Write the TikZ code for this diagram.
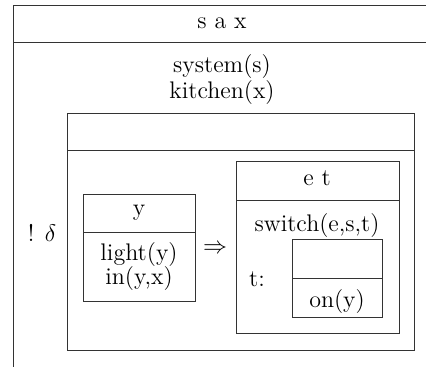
\documentclass[tikz,border=0pt]{standalone}
\usetikzlibrary{positioning}
\tikzset{
    drsbox/.style={rectangle, draw=black!80, line width=0.5pt, anchor=north west, inner sep=0pt},
    drsline/.style={draw=black!80, line width=0.5pt},
    cond/.style={font=\large, inner sep=0pt}
}
\begin{document}
\begin{tikzpicture}[x=0.5pt, y=-0.5pt]
    \useasboundingbox (0,0) rectangle (426,367);
    \clip (0,0) rectangle (426,367);
    % outer box
    \node[drsbox, minimum width=209pt, minimum height=190pt] (outer) at (13,5) {};
    \draw[drsline] (outer.west |- 0,43) -- (outer.east |- 0,43);
    \node[cond] (univ) at (222,23) {s a x};
    \node[cond] (sys) at (222,67) {system(s)};
    \node[cond] (kit) at (222,93) {kitchen(x)};
    \node[cond] (op) at (42,233) {! $\delta$};
    % box under the operator
    \node[drsbox, minimum width=173.5pt, minimum height=118.5pt] (mid) at (67,113) {};
    \draw[drsline] (mid.west |- 0,151) -- (mid.east |- 0,151);
    % antecedent
    \node[drsbox, minimum width=56pt, minimum height=53.5pt] (ante) at (83,194) {};
    \draw[drsline] (ante.west |- 0,233) -- (ante.east |- 0,233);
    \node[cond] (ay) at (139,213) {y};
    \node[cond] (light) at (139,255) {light(y)};
    \node[cond] (inyx) at (139,279) {in(y,x)};
    \node[cond] (impl) at (215,249) {$\Rightarrow$};
    % consequent
    \node[drsbox, minimum width=81.5pt, minimum height=86pt] (cons) at (236,161) {};
    \draw[drsline] (cons.west |- 0,201) -- (cons.east |- 0,201);
    \node[cond] (et) at (317,178) {e t};
    \node[cond] (switch) at (317,226) {switch(e,s,t)};
    \node[cond] (tlab) at (257,279) {t:};
    % box for t
    \node[drsbox, minimum width=45pt, minimum height=39pt] (tbox) at (292,239) {};
    \draw[drsline] (tbox.west |- 0,278) -- (tbox.east |- 0,278);
    \node[cond] (on) at (337,302) {on(y)};
\end{tikzpicture}
\end{document}
